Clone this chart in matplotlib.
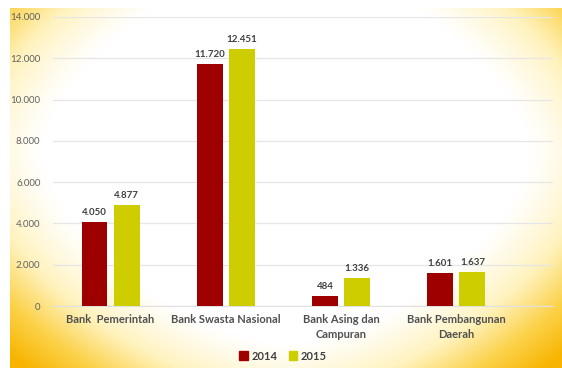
import numpy as np
import matplotlib
matplotlib.use("Agg")
import matplotlib.pyplot as plt
from matplotlib.colors import LinearSegmentedColormap
from matplotlib.patches import Patch
from matplotlib.ticker import FuncFormatter, MultipleLocator

plt.rcParams['font.family'] = ['Lato', 'DejaVu Sans']

categories = ["Bank  Pemerintah", "Bank Swasta Nasional", "Bank Asing dan\nCampuran",
              "Bank Pembangunan\nDaerah"]
series_2014 = [4050, 11720, 484, 1601]
series_2015 = [4877, 12451, 1336, 1637]
series_names = ["2014", "2015"]
colors = ["#9E0000", "#CDCD00"]


def dotted_thousands(v):
    return f"{int(round(v)):,}".replace(",", ".")


fig = plt.figure(figsize=(5.62, 3.68), dpi=100)
fig.patch.set_facecolor("white")

# warm radial glow behind the chart
bg = fig.add_axes([10 / 562, 0, 552 / 562, 360 / 368], zorder=0)
h, w = 360, 552
yy, xx = np.mgrid[0:h, 0:w]
nx = np.abs((xx / (w - 1) - 0.5) / 0.5)
ny = np.abs((yy / (h - 1) - 0.40) / 0.60)
p = 1.6
r = (nx ** p + ny ** p) ** (1 / p)
t = np.clip((r - 0.88) / 0.62, 0, 1) ** 1.2
glow = LinearSegmentedColormap.from_list(
    "glow", ["#FFFFFF", "#FFF3C0", "#FCD24A", "#F8B400"])
bg.imshow(t, cmap=glow, vmin=0, vmax=1, aspect="auto", interpolation="bilinear")
bg.set_axis_off()

ax = fig.add_axes([53 / 562, (368 - 306) / 368, 500 / 562, 289 / 368], zorder=1)
ax.patch.set_alpha(0)

x = np.arange(len(categories))
bw = 0.225
off = 0.14
b1 = ax.bar(x - off, series_2014, bw, color=colors[0], zorder=3)
b2 = ax.bar(x + off, series_2015, bw, color=colors[1], zorder=3)

for bars, vals in ((b1, series_2014), (b2, series_2015)):
    for rect, v in zip(bars, vals):
        ax.text(rect.get_x() + rect.get_width() / 2, v + 250, dotted_thousands(v),
                ha="center", va="bottom", fontsize=7, color="#404040",
                fontweight="bold")

ax.set_ylim(0, 14000)
ax.set_xlim(-0.5, 3.84)
ax.yaxis.set_major_locator(MultipleLocator(2000))
ax.yaxis.set_major_formatter(FuncFormatter(lambda v, p: dotted_thousands(v)))
ax.grid(axis="y", color="#E6E6E6", linewidth=0.9, zorder=0)
ax.set_axisbelow(True)
for s in ax.spines.values():
    s.set_visible(False)
ax.spines["bottom"].set_visible(True)
ax.spines["bottom"].set_color("#E0E0E0")
ax.tick_params(axis="y", length=0, labelsize=7, labelcolor="#606060", pad=9)
ax.tick_params(axis="x", length=0, labelsize=8, labelcolor="#505050", pad=6)
ax.set_xticks(x)
ax.set_xticklabels(categories, fontweight="bold", linespacing=1.45)

handles = [Patch(color=c, label=n) for c, n in zip(colors, series_names)]
leg = fig.legend(handles=handles, loc="center", bbox_to_anchor=(283 / 562, 1 - 356 / 368),
                 ncol=2, frameon=False, fontsize=8, handlelength=0.8, handleheight=0.8,
                 handletextpad=0.3, columnspacing=1.0)
for txt in leg.get_texts():
    txt.set_color("#404040")
    txt.set_fontweight("bold")

fig.savefig("out.png", dpi=100)
